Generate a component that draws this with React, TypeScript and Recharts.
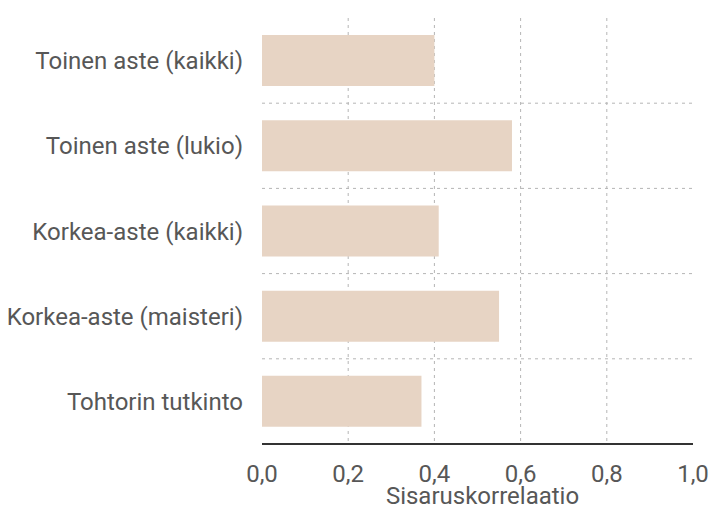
import React from 'react';
import { BarChart, Bar, XAxis, YAxis, CartesianGrid } from 'recharts';

const categories = [
  'Toinen aste (kaikki)',
  'Toinen aste (lukio)',
  'Korkea-aste (kaikki)',
  'Korkea-aste (maisteri)',
  'Tohtorin tutkinto',
];
const values = [0.4, 0.58, 0.41, 0.55, 0.37];
const xTicks = [0, 0.2, 0.4, 0.6, 0.8, 1.0];
const xDomain = [0, 1];
// grid lines skip the axis ends
const gridXTicks = [0.2, 0.4, 0.6, 0.8];

const data = categories.map((name, i) => ({ name, value: values[i] }));

const textColor = '#575757';
const fontFamily = 'Roboto, sans-serif';

// vertical grid at the inner ticks, using the plot offset from the chart
const verticalGrid = ({ offset }: any) =>
  gridXTicks.map(
    (t) => offset.left + ((t - xDomain[0]) / (xDomain[1] - xDomain[0])) * offset.width
  );

// horizontal grid between the category bands
const horizontalGrid = ({ offset }: any) =>
  categories.slice(1).map((_, i) => offset.top + ((i + 1) * offset.height) / categories.length);

export default function App() {
  return (
    <div style={{ position: 'absolute', left: 0, top: 0, fontFamily }}>
      <BarChart
        width={712}
        height={508}
        data={data}
        layout="vertical"
        margin={{ top: 18, right: 19, left: 0, bottom: 0 }}
        barCategoryGap="20%"
      >
        <CartesianGrid
          stroke="#b5b5b5"
          strokeDasharray="3 4"
          verticalCoordinatesGenerator={verticalGrid}
          horizontalCoordinatesGenerator={horizontalGrid}
        />
        <XAxis
          type="number"
          domain={xDomain}
          ticks={xTicks}
          tickFormatter={(v: number) => v.toFixed(1).replace('.', ',')}
          axisLine={{ stroke: '#333333', strokeWidth: 2 }}
          tickLine={false}
          tickSize={0}
          tickMargin={21}
          height={64}
          tick={{ fill: textColor, fontSize: 24, fontFamily }}
          label={{
            value: 'Sisaruskorrelaatio',
            position: 'insideBottom',
            offset: 4,
            dx: 5,
            fill: textColor,
            fontSize: 24,
            fontFamily,
          }}
        />
        <YAxis
          type="category"
          dataKey="name"
          width={262}
          axisLine={false}
          tickLine={false}
          tickSize={0}
          tickMargin={19}
          tick={{ fill: textColor, fontSize: 24, fontFamily }}
        />
        <Bar dataKey="value" fill="#e7d4c4" isAnimationActive={false} />
      </BarChart>
    </div>
  );
}
